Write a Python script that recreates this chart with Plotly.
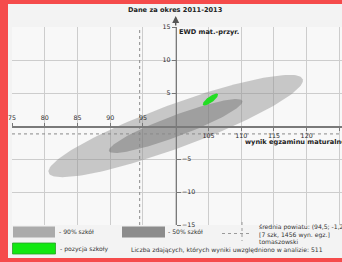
import numpy as np
import plotly.graph_objects as go

# ---- data ----
ellipse_names = ["90% szkół", "50% szkół", "pozycja szkoły"]
center_x = [100.0, 100.0, 105.3]
center_y = [0.0, 0.0, 4.0]
major_dx = [19.4, 10.2, 1.15]
major_dy = [7.1, 3.8, 0.83]
minor_dx = [-1.15, -0.57, -0.27]
minor_dy = [3.1, 1.5, 0.37]
ellipse_colors = ["rgba(145,145,145,0.47)", "rgba(110,110,110,0.45)", "#22dd22"]

avg_x = 94.5
avg_y = -1.2

x_grid = [75, 80, 85, 90, 95, 100, 105, 110, 115, 120, 125]
y_grid = [-15, -10, -5, 0, 5, 10, 15]
x_ticks_top = [75, 80, 85, 90, 95]
x_ticks_bottom = [105, 110, 115, 120, 125]
y_ticks_left = [5, 10, 15]
y_ticks_right = [-15, -10, -5]

title_text = "Dane za okres 2011-2013"
y_title = "EWD mat.-przyr."
x_title = "wynik egzaminu maturalnego"
avg_lines = ["średnia powiatu: (94,5; -1,2)", "[7 szk, 1456 wyn. egz.]", "tomaszowski"]
count_text = "Liczba zdających, których wyniki uwzględniono w analizie: 511"

XR = [75, 125.4]
YR = [-15, 15]
W, H = 342, 262
ML, MR, MT, MB = 12, 0, 27, 37
PW, PH = W - ML - MR, H - MT - MB

def px(xp):
    return (xp - ML) / PW

def py(yp):
    return (H - MB - yp) / PH

FONT = "DejaVu Sans"
fig = go.Figure()

t = np.linspace(0, 2 * np.pi, 160)
for i in range(3):
    ex = center_x[i] + major_dx[i] * np.cos(t) + minor_dx[i] * np.sin(t)
    ey = center_y[i] + major_dy[i] * np.cos(t) + minor_dy[i] * np.sin(t)
    fig.add_trace(go.Scatter(x=ex, y=ey, mode="lines", fill="toself",
                             fillcolor=ellipse_colors[i], line=dict(width=0),
                             name=ellipse_names[i], hoverinfo="skip"))

# average dashed lines
fig.add_trace(go.Scatter(x=[avg_x, avg_x], y=YR, mode="lines",
                         line=dict(color="#8a8a8a", width=1, dash="3px,3px"), hoverinfo="skip"))
fig.add_trace(go.Scatter(x=XR, y=[avg_y, avg_y], mode="lines",
                         line=dict(color="#8a8a8a", width=1, dash="3px,3px"), hoverinfo="skip"))

# dummy traces for the overlay axes
fig.add_trace(go.Scatter(x=[None], y=[None], xaxis="x2", yaxis="y2", hoverinfo="skip"))
fig.add_trace(go.Scatter(x=[None], y=[None], xaxis="x3", yaxis="y3", hoverinfo="skip"))

tickfont = dict(family=FONT, size=6.3, color="#2a2a2a")
ypos = (100 - XR[0]) / (XR[1] - XR[0])

fig.update_layout(
    width=W, height=H, showlegend=False,
    margin=dict(l=ML, r=MR, t=MT, b=MB, pad=0, autoexpand=False),
    paper_bgcolor="#f3f3f3", plot_bgcolor="#f8f8f8",
    xaxis=dict(range=XR, tickvals=x_grid, showticklabels=False, ticks="",
               showgrid=True, gridcolor="#cdcdcd", gridwidth=1, zeroline=False, showline=False),
    yaxis=dict(range=YR, tickvals=y_grid, showticklabels=False, ticks="",
               showgrid=True, gridcolor="#cdcdcd", gridwidth=1, zeroline=False, showline=False),
    xaxis2=dict(range=XR, overlaying="x", anchor="free", position=0.5, side="bottom",
                tickvals=x_ticks_bottom, ticks="outside", ticklen=3, tickcolor="#777",
                showgrid=False, zeroline=False, showline=True, linecolor="#7a7a7a", linewidth=1.5,
                tickfont=tickfont),
    xaxis3=dict(range=XR, overlaying="x", anchor="free", position=0.5, side="top",
                tickvals=x_ticks_top, ticks="outside", ticklen=3, tickcolor="#777",
                showgrid=False, zeroline=False, showline=False, tickfont=tickfont),
    yaxis2=dict(range=YR, overlaying="y", anchor="free", position=ypos, side="left",
                tickvals=y_ticks_left, ticks="outside", ticklen=4, tickcolor="#777",
                showgrid=False, zeroline=False, showline=True, linecolor="#7a7a7a", linewidth=1.5,
                tickfont=tickfont),
    yaxis3=dict(range=YR, overlaying="y", anchor="free", position=ypos, side="right",
                tickvals=y_ticks_right, ticks="outside", ticklen=4, tickcolor="#777",
                showgrid=False, zeroline=False, showline=False, tickfont=tickfont),
)

ann = []
# axis arrow
ann.append(dict(x=100, xref="x", y=py(16), yref="paper", ax=0, ay=11, text="",
                showarrow=True, arrowhead=2, arrowsize=1, arrowwidth=1.4, arrowcolor="#555"))
ann.append(dict(x=100, xref="x", y=py(10), yref="paper", text="<b>" + title_text + "</b>",
                showarrow=False, font=dict(family=FONT, size=6.6, color="#222"),
                xanchor="center", yanchor="middle"))
ann.append(dict(x=100, xref="x", y=py(32), yref="paper", text="<b>" + y_title + "</b>",
                showarrow=False, font=dict(family=FONT, size=6.6, color="#222"),
                xanchor="left", yanchor="middle", xshift=1))
ann.append(dict(x=px(243), xref="paper", y=py(142), yref="paper", text="<b>" + x_title + "</b>",
                showarrow=False, font=dict(family=FONT, size=6.6, color="#222"),
                xanchor="left", yanchor="middle"))

legfont = dict(family=FONT, size=6.1, color="#333")
for (xl, yl, txt) in [(57, 232, "- " + ellipse_names[0]), (166, 232, "- " + ellipse_names[1]),
                      (58, 248.5, "- " + ellipse_names[2])]:
    ann.append(dict(x=px(xl), xref="paper", y=py(yl), yref="paper", text=txt, showarrow=False,
                    font=legfont, xanchor="left", yanchor="middle"))
for j, yl in enumerate([227.5, 234.5, 241.5]):
    ann.append(dict(x=px(257), xref="paper", y=py(yl), yref="paper", text=avg_lines[j],
                    showarrow=False, font=legfont, xanchor="left", yanchor="middle"))
ann.append(dict(x=px(129), xref="paper", y=py(249.5), yref="paper", text=count_text,
                showarrow=False, font=legfont, xanchor="left", yanchor="middle"))
fig.update_layout(annotations=ann)

shapes = []
# legend boxes
shapes.append(dict(type="rect", xref="paper", yref="paper", x0=px(13), x1=px(55), y0=py(237.5), y1=py(226.5),
                   fillcolor="#ababab", line=dict(width=0)))
shapes.append(dict(type="rect", xref="paper", yref="paper", x0=px(122), x1=px(165), y0=py(237.5), y1=py(226.5),
                   fillcolor="#8c8c8c", line=dict(width=0)))
shapes.append(dict(type="rect", xref="paper", yref="paper", x0=px(12.5), x1=px(55.5), y0=py(254), y1=py(243),
                   fillcolor="#11e811", line=dict(width=0.8, color="#2aa02a")))
shapes.append(dict(type="line", xref="paper", yref="paper", x0=px(222), x1=px(251), y0=py(233.5), y1=py(233.5),
                   line=dict(color="#9a9a9a", width=1, dash="3px,3px")))
shapes.append(dict(type="line", xref="paper", yref="paper", x0=px(242), x1=px(242), y0=py(222), y1=py(241),
                   line=dict(color="#9a9a9a", width=1, dash="3px,3px")))
# red frame
red = "#f54b4b"
shapes.append(dict(type="rect", xref="paper", yref="paper", x0=px(0), x1=px(8), y0=py(H), y1=py(0),
                   fillcolor=red, line=dict(width=0), layer="above"))
shapes.append(dict(type="rect", xref="paper", yref="paper", x0=px(0), x1=px(W), y0=py(4), y1=py(0),
                   fillcolor=red, line=dict(width=0), layer="above"))
shapes.append(dict(type="rect", xref="paper", yref="paper", x0=px(0), x1=px(W), y0=py(H), y1=py(258),
                   fillcolor=red, line=dict(width=0), layer="above"))
fig.update_layout(shapes=shapes)

fig.write_html("out.html", config={"displayModeBar": False, "staticPlot": True},
               post_script="document.body.style.margin='0';document.body.style.overflow='hidden';")
